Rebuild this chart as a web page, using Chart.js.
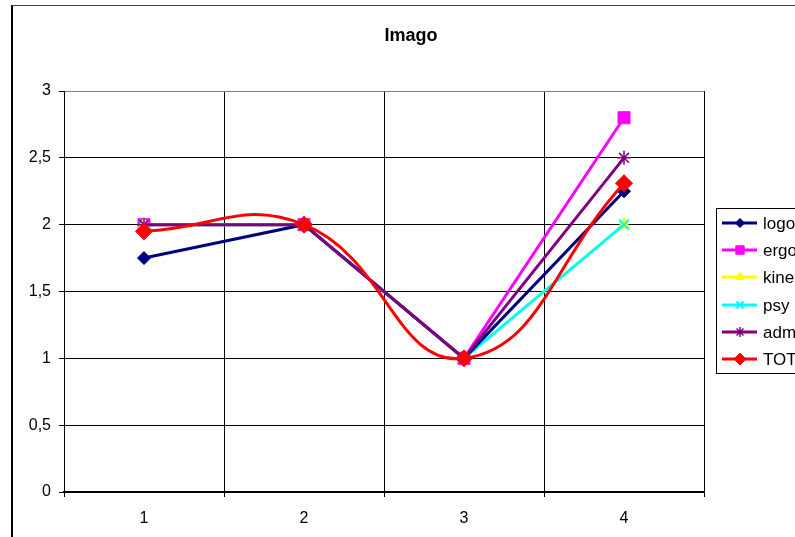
<!DOCTYPE html>
<html>
<head>
<meta charset="utf-8">
<script src="https://cdn.jsdelivr.net/npm/chart.js@4.4.1/dist/chart.umd.min.js"></script>
<style>
html, body { margin: 0; padding: 0; overflow: hidden; background: #fff; }
#wrap { position: absolute; left: 0; top: 0; width: 810px; height: 537px; }
</style>
</head>
<body>
<div id="wrap"><canvas id="c" width="810" height="537"></canvas></div>
<script>
const chartTitle = 'Imago';
const categories = ['1', '2', '3', '4'];
const seriesNames = ['logo', 'ergo', 'kine', 'psy', 'adm', 'TOT'];
const logo = [1.75, 2, 1, 2.25];
const ergo = [2, 2, 1, 2.8];
const kine = [2, 2, 1, 2];
const psy = [2, 2, 1, 2];
const adm = [2, 2, 1, 2.5];
const tot = [1.95, 2, 1, 2.31];
const yTickLabels = ['0', '0,5', '1', '1,5', '2', '2,5', '3'];

const FONT = '"Liberation Sans", Arial, sans-serif';

function ds(label, data, color, style, radius, bw, order, extra) {
  return Object.assign({
    label, data,
    borderColor: color,
    backgroundColor: color,
    pointBackgroundColor: color,
    pointBorderColor: color,
    pointStyle: style,
    pointRadius: radius,
    pointHoverRadius: radius,
    pointBorderWidth: bw,
    borderWidth: 3,
    tension: 0,
    order: order
  }, extra || {});
}

const datasets = [
  ds(seriesNames[0], logo, '#000080', 'rectRot', 6.5, 1, 2),
  ds(seriesNames[1], ergo, '#FF00FF', 'rect', 8.5, 1, 5),
  ds(seriesNames[2], kine, '#FFFF00', 'triangle', 7, 1, 4),
  ds(seriesNames[3], psy, '#00FFFF', 'crossRot', 7, 2, 3),
  ds(seriesNames[4], adm, '#800080', 'star', 7, 1.5, 1),
  ds(seriesNames[5], tot, '#FF0000', 'rectRot', 8.5, 1, 0, { tension: 0.45 })
];

const decor = {
  id: 'decor',
  beforeDraw(chart) {
    const ctx = chart.ctx;
    ctx.save();
    ctx.fillStyle = '#fff';
    ctx.fillRect(0, 0, chart.width, chart.height);
    ctx.strokeStyle = '#000';
    ctx.lineWidth = 2;
    ctx.beginPath();
    ctx.moveTo(12, 537); ctx.lineTo(12, 5); ctx.stroke();
    ctx.strokeStyle = '#444';
    ctx.lineWidth = 1;
    ctx.beginPath();
    ctx.moveTo(12, 5.5); ctx.lineTo(chart.width, 5.5); ctx.stroke();
    ctx.restore();
  },
  afterDraw(chart) {
    const ctx = chart.ctx;
    ctx.save();
    // title
    ctx.fillStyle = '#000';
    ctx.font = 'bold 18px ' + FONT;
    ctx.textAlign = 'center';
    ctx.textBaseline = 'middle';
    ctx.fillText(chartTitle, 411, 36);
    // legend box
    ctx.strokeStyle = '#000';
    ctx.lineWidth = 1;
    ctx.strokeRect(716.5, 208.5, 100, 165);
    const rowY = [223, 250, 277, 305, 332, 359];
    chart.data.datasets.forEach((d, i) => {
      const y = rowY[i];
      ctx.strokeStyle = d.borderColor;
      ctx.lineWidth = 3;
      ctx.beginPath();
      ctx.moveTo(722, y); ctx.lineTo(757, y); ctx.stroke();
      ctx.fillStyle = d.pointBackgroundColor;
      ctx.strokeStyle = d.pointBorderColor;
      ctx.lineWidth = d.pointBorderWidth;
      const r = Math.max(4, d.pointRadius * 0.7);
      if (Chart.helpers && Chart.helpers.drawPoint) {
        Chart.helpers.drawPoint(ctx, { pointStyle: d.pointStyle, rotation: 0, radius: r, borderWidth: d.pointBorderWidth }, 740, y);
      }
      ctx.fillStyle = '#000';
      ctx.font = '17px ' + FONT;
      ctx.textAlign = 'left';
      ctx.textBaseline = 'middle';
      ctx.fillText(d.label, 763, y + 1);
    });
    ctx.restore();
  }
};

new Chart(document.getElementById('c'), {
  type: 'line',
  data: { labels: categories, datasets },
  plugins: [decor],
  options: {
    responsive: false,
    animation: false,
    layout: { padding: { left: 12, top: 91, right: 106, bottom: 0 } },
    plugins: {
      legend: { display: false },
      title: { display: false },
      tooltip: { enabled: false }
    },
    scales: {
      x: {
        type: 'category',
        offset: true,
        afterFit(s) { s.height = 45; },
        grid: {
          offset: true,
          color: (c) => (c.index === categories.length ? '#808080' : '#000'),
          lineWidth: 1,
          tickLength: 5,
          tickColor: '#000'
        },
        border: { color: '#000', width: 1.5 },
        ticks: { color: '#000', font: { family: FONT, size: 16 }, padding: 12, maxRotation: 0 }
      },
      y: {
        min: 0,
        max: 3,
        afterFit(s) { s.width = 52; },
        grid: {
          color: (c) => (c.index === yTickLabels.length - 1 ? '#808080' : '#000'),
          lineWidth: 1,
          tickLength: 5,
          tickColor: '#000'
        },
        border: { color: '#000', width: 1 },
        ticks: {
          stepSize: 0.5,
          color: '#000',
          font: { family: FONT, size: 16 },
          padding: 8,
          callback: (v, i) => yTickLabels[i]
        }
      }
    }
  }
});
</script>
</body>
</html>
